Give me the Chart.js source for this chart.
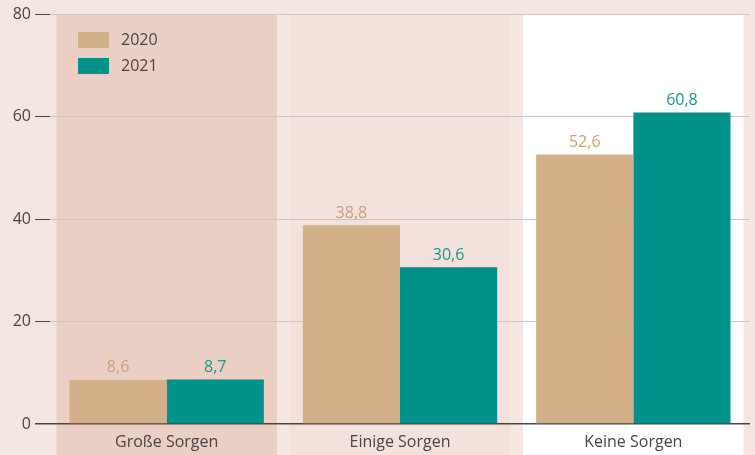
<!DOCTYPE html>
<html>
<head>
<meta charset="utf-8">
<script src="https://cdn.jsdelivr.net/npm/chart.js@4"></script>
<style>
  html, body { margin: 0; padding: 0; background: #f5e6e1; }
  #wrap { width: 755px; height: 455px; position: relative; }
</style>
</head>
<body>
<div id="wrap"><canvas id="chart"></canvas></div>
<script>
// ---- data ----
const categories = ['Große Sorgen', 'Einige Sorgen', 'Keine Sorgen'];
const values2020 = [8.6, 38.8, 52.6];
const values2021 = [8.7, 30.6, 60.8];
const seriesLabels = ['2020', '2021'];
const yTicks = [0, 20, 40, 60, 80];

// ---- style ----
const FONT = '"Open Sans", "Noto Sans", sans-serif';
const TEXT = '#4a4444';
const BAR_COLORS = ['#d3af8a', '#00928a'];
const LABEL_COLORS = ['#cf9f76', '#13998f'];
const BAND_COLORS = ['#ebcec4', '#f3e2dc', '#ffffff'];

Chart.defaults.font.family = FONT;
Chart.defaults.color = TEXT;

// background bands behind each category (drawn first), then value labels and legend
const decor = {
  id: 'decor',
  beforeDraw(chart) {
    const { ctx, chartArea, scales: { x } } = chart;
    const bandW = (x.getPixelForValue(1) - x.getPixelForValue(0)) * 0.944;
    ctx.save();
    categories.forEach((c, i) => {
      const cx = x.getPixelForValue(i);
      ctx.fillStyle = BAND_COLORS[i];
      ctx.fillRect(cx - bandW / 2, chartArea.top, bandW, chart.height - chartArea.top);
    });
    ctx.restore();
  },
  afterDatasetsDraw(chart) {
    const { ctx, chartArea } = chart;
    ctx.save();
    ctx.font = '16px ' + FONT;
    ctx.textAlign = 'center';
    ctx.textBaseline = 'middle';
    chart.data.datasets.forEach((ds, di) => {
      const meta = chart.getDatasetMeta(di);
      meta.data.forEach((bar, i) => {
        ctx.fillStyle = LABEL_COLORS[di];
        ctx.fillText(ds.data[i].toFixed(1).replace('.', ','), bar.x, bar.y - 12);
      });
    });
    // legend
    const lx = chartArea.left + 28, ly = chartArea.top + 18;
    chart.data.datasets.forEach((ds, di) => {
      const y = ly + di * 26;
      ctx.fillStyle = BAR_COLORS[di];
      ctx.fillRect(lx, y, 31, 16);
      ctx.fillStyle = TEXT;
      ctx.textAlign = 'left';
      ctx.fillText(ds.label, lx + 43, y + 8.5);
    });
    ctx.restore();
  }
};

new Chart(document.getElementById('chart'), {
  type: 'bar',
  data: {
    labels: categories,
    datasets: [
      { label: seriesLabels[0], data: values2020, backgroundColor: BAR_COLORS[0] },
      { label: seriesLabels[1], data: values2021, backgroundColor: BAR_COLORS[1] }
    ]
  },
  options: {
    responsive: true,
    maintainAspectRatio: false,
    animation: false,
    layout: { padding: { top: 14, right: 5, left: 0, bottom: 0 } },
    datasets: { bar: { categoryPercentage: 0.833, barPercentage: 1.0 } },
    plugins: { legend: { display: false }, tooltip: { enabled: false } },
    scales: {
      x: {
        grid: { display: false },
        border: { display: false },
        ticks: { font: { size: 16 }, color: TEXT, padding: 1 },
        afterFit(s) { s.height = 31; }
      },
      y: {
        min: 0, max: 80,
        afterBuildTicks(s) { s.ticks = yTicks.map(v => ({ value: v })); },
        border: { display: false },
        grid: {
          tickLength: 15,
          lineWidth: c => c.tick && c.tick.value === 0 ? 1.5 : 1,
          color: c => c.tick && c.tick.value === 0 ? '#4a4444' : '#cdc6c4',
          tickColor: '#4a4444'
        },
        ticks: { font: { size: 16 }, color: TEXT, padding: 4 },
        afterFit(s) { s.width = 50; }
      }
    }
  },
  plugins: [decor]
});
</script>
</body>
</html>
